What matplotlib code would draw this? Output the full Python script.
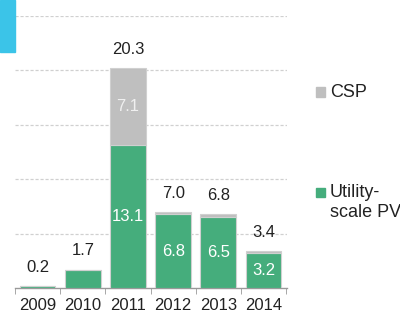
import matplotlib
matplotlib.use("Agg")
import matplotlib.pyplot as plt
from matplotlib.patches import Rectangle

years = ["2009", "2010", "2011", "2012", "2013", "2014"]
pv = [0.2, 1.7, 13.1, 6.8, 6.5, 3.2]
csp = [0.0, 0.0, 7.1, 0.2, 0.3, 0.2]
totals = ["0.2", "1.7", "20.3", "7.0", "6.8", "3.4"]
pv_labels = ["", "", "13.1", "6.8", "6.5", "3.2"]
csp_labels = ["", "", "7.1", "", "", ""]

plt.rcParams['font.family'] = ['Liberation Sans', 'DejaVu Sans']

green = "#45AD7C"
gray = "#BFBFBF"
fs = 12

fig = plt.figure(figsize=(4.0, 3.18), dpi=100)
ax = fig.add_axes([0.0375, 0.0943, 0.68, 0.8554])

x = list(range(len(years)))
w = 0.79
ax.bar(x, pv, width=w, color=green, edgecolor="#D0D0D0", linewidth=0.8, zorder=3)
ax.bar(x, csp, width=w, bottom=pv, color=gray, edgecolor="#D0D0D0", linewidth=0.8, zorder=3)

for i in x:
    top = pv[i] + csp[i]
    ax.annotate(totals[i], (i, top), xytext=(0, 8), textcoords="offset points",
                ha="center", va="bottom", fontsize=fs, color="#222222")
    if pv_labels[i]:
        ax.text(i, pv[i] / 2, pv_labels[i], ha="center", va="center",
                fontsize=fs, color="white", zorder=4)
    if csp_labels[i]:
        ax.text(i, pv[i] + csp[i] / 2, csp_labels[i], ha="center", va="center",
                fontsize=fs, color="#F0F0F0", zorder=4)

ax.set_xlim(-0.40, 5.52)
ax.set_ylim(0, 25)
ax.set_yticks([5, 10, 15, 20, 25])
ax.yaxis.grid(True, linestyle=(0, (2.5, 1.5)), color="#D0D0D0", linewidth=0.9, zorder=0)
ax.tick_params(axis="y", left=False, labelleft=False)

ax.set_xticks(x)
ax.set_xticklabels(years, fontsize=fs, color="#222222")
ax.set_xticks([i + 0.5 for i in range(-1, 6)], minor=True)
ax.tick_params(axis="x", which="major", length=0, pad=7)
ax.tick_params(axis="x", which="minor", length=4, color="#999999")

for s in ["top", "left", "right"]:
    ax.spines[s].set_visible(False)
ax.spines["bottom"].set_color("#999999")
ax.spines["bottom"].set_linewidth(1.0)

# legend
lfs = 13
def fy(py):
    return 1 - py / 318

fig.patches.append(Rectangle((316 / 400, fy(97)), 9 / 400, 10 / 318, transform=fig.transFigure,
                             color=gray, figure=fig))
fig.text(330 / 400, fy(97), "CSP", fontsize=lfs, va="baseline", ha="left", color="#222222")
fig.patches.append(Rectangle((316 / 400, fy(197)), 9 / 400, 9 / 318, transform=fig.transFigure,
                             color=green, figure=fig))
fig.text(330 / 400, fy(197), "Utility-", fontsize=lfs, va="baseline", ha="left", color="#222222")
fig.text(330 / 400, fy(217), "scale PV", fontsize=lfs, va="baseline", ha="left", color="#222222")

# cyan tab at top-left
fig.patches.append(Rectangle((0, fy(52)), 15 / 400, 52 / 318, transform=fig.transFigure,
                             color="#3BC4E8", figure=fig))

fig.savefig("out.png", dpi=100)
